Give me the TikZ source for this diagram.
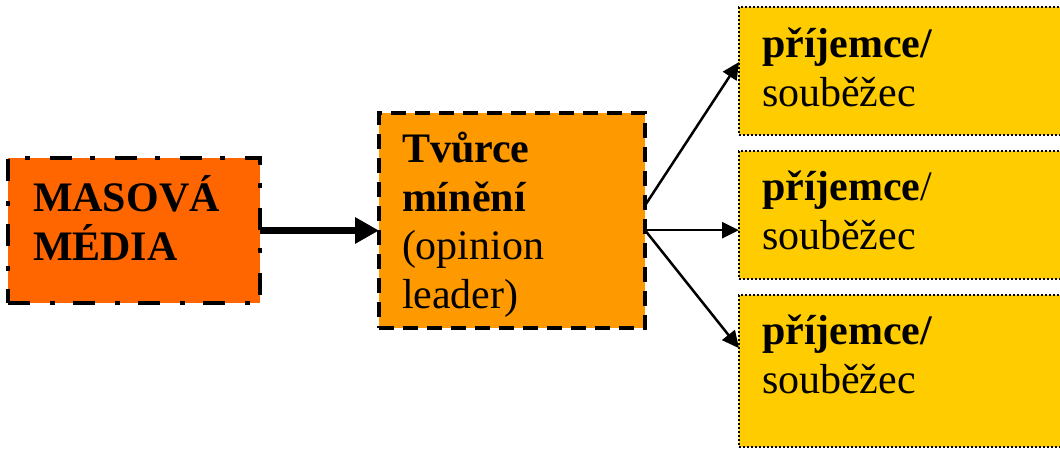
\documentclass[tikz,border=0pt]{standalone}
\usepackage{fontspec}
\setmainfont{Liberation Serif}
\newcommand*{\boxfont}{\fontsize{42}{48.5}\selectfont}
\definecolor{media}{RGB}{255,102,0}
\definecolor{leader}{RGB}{255,153,0}
\definecolor{receiver}{RGB}{255,204,0}
\usetikzlibrary{arrows.meta}
\usetikzlibrary{calc}
\usetikzlibrary{positioning}
\tikzstyle{base}=[x=1pt, y=-1pt, inner sep=0pt, outer sep=0pt]
\tikzstyle{box}=[draw=black, anchor=north west]
\tikzstyle{mediabox}=[box, fill=media, line width=4pt, dash pattern=on 22pt off 20pt on 5pt off 18pt]
\tikzstyle{leaderbox}=[box, fill=leader, line width=3.5pt, dash pattern=on 15pt off 9pt]
\tikzstyle{receiverbox}=[box, fill=receiver, line width=2pt, dash pattern=on 2pt off 2pt]
\tikzstyle{boxtext}=[anchor=base west, align=left, font=\boxfont]
\tikzstyle{thickarrow}=[line width=6.5pt, -{Triangle[length=24pt, width=25pt]}]
\tikzstyle{thinarrow}=[line width=2.5pt, -{Triangle[length=17pt, width=16pt]}]

\begin{document}
\begin{tikzpicture}[base]
    \useasboundingbox (0,0) rectangle (1060,448);
        \node [mediabox, minimum width=252pt, minimum height=145pt] (media) at (8,158) {};
        \node [leaderbox, minimum width=266pt, minimum height=215pt] (leader) at (379,113) {};
        \node [receiverbox, minimum width=340pt, minimum height=128pt] (rec1) at (739,7) {};
        \node [receiverbox, minimum width=340pt, minimum height=128pt] (rec2) at (739,151) {};
        \node [receiverbox, minimum width=340pt, minimum height=152pt] (rec3) at (739,295) {};
        \node [boxtext] (mediatext) at (33,260) {\textbf{MASOVÁ}\\\textbf{MÉDIA}};
        \node [boxtext] (leadertext) at (402,308) {\textbf{Tvůrce}\\\textbf{mínění}\\(opinion\\leader)};
        \node [boxtext] (rec1text) at (762,106) {\textbf{příjemce/}\\souběžec};
        \node [boxtext] (rec2text) at (762,249) {\textbf{příjemce}/\\souběžec};
        \node [boxtext] (rec3text) at (762,393) {\textbf{příjemce/}\\souběžec};
        \coordinate (upfork) at ($(leader.north east)!0.43!(leader.south east)$);
        \coordinate (fork) at ($(leader.north east)!0.545!(leader.south east)$);
        \coordinate (rec1in) at ($(rec1.north west)!0.43!(rec1.south west)$);
        \coordinate (rec3in) at ($(rec3.north west)!0.35!(rec3.south west)$);
        \draw [thickarrow] (media.east) -- (media.east -| leader.west);
        \draw [thinarrow] (upfork) -- (rec1in);
        \draw [thinarrow] (fork) -- (fork -| rec2.west);
        \draw [thinarrow] (fork) -- (rec3in);
    \end{tikzpicture}
\end{document}
